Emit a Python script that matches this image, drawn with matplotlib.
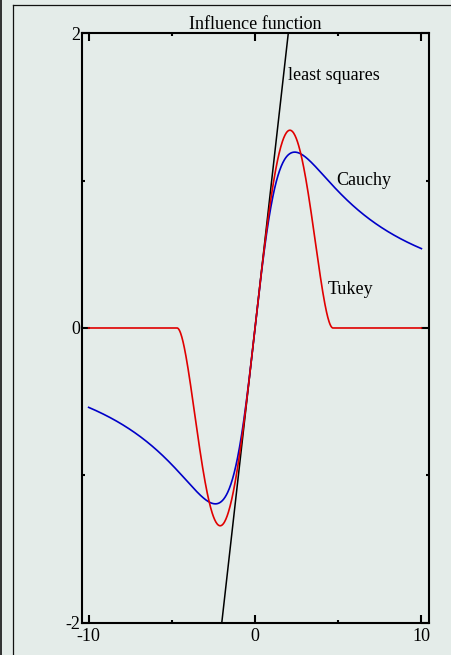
import numpy as np
import matplotlib.pyplot as plt
from matplotlib.lines import Line2D

plt.rcParams['font.family'] = ['Liberation Serif', 'DejaVu Serif']
plt.rcParams['axes.unicode_minus'] = False

# tuning constants of the two robust estimators
c_cauchy = 2.3849
c_tukey = 4.6851

x_range = (-10, 10)
x_ticks = [-10, 0, 10]
x_minor = [-5, 5]
y_ticks = [-2, 0, 2]
y_minor = [-1, 1]

curve_labels = {
    'least squares': (1.99, 1.68),
    'Cauchy': (4.88, 0.97),
    'Tukey': (4.34, 0.23),
}

bg = '#e4ece9'

x = np.linspace(x_range[0], x_range[1], 801)
psi_ls = x
psi_cauchy = x / (1 + (x / c_cauchy) ** 2)
psi_tukey = np.where(np.abs(x) < c_tukey, x * (1 - (x / c_tukey) ** 2) ** 2, 0.0)

fig = plt.figure(figsize=(4.51, 6.55), dpi=100, facecolor=bg)
ax = fig.add_axes([0.1818, 0.0489, 0.951 - 0.1818, 0.9496 - 0.0489])
ax.set_facecolor(bg)

ax.plot(x, psi_ls, color='black', lw=1.1)
ax.plot(x, psi_cauchy, color='#0000c8', lw=1.2)
ax.plot(x, psi_tukey, color='#e00000', lw=1.2)

for name, (tx, ty) in curve_labels.items():
    ax.text(tx, ty, name, fontsize=13, ha='left', va='baseline')

ax.set_xlim(-10.4, 10.45)
ax.set_ylim(-2, 2)
ax.set_xticks(x_ticks)
ax.set_xticklabels([str(v) for v in x_ticks])
ax.set_xticks(x_minor, minor=True)
ax.set_yticks(y_ticks)
ax.set_yticklabels([str(v) for v in y_ticks])
ax.set_yticks(y_minor, minor=True)

ax.tick_params(which='both', direction='in', top=True, right=True, width=1.5, labelsize=13)
ax.tick_params(which='major', length=5.5)
ax.tick_params(which='minor', length=2.2)
ax.tick_params(axis='x', pad=3.5)
ax.tick_params(axis='y', pad=1)
for s in ax.spines.values():
    s.set_linewidth(1.5)

ax.set_title('Influence function', fontsize=13, pad=1.5)

# outer frame lines
fig.add_artist(Line2D([0.0012, 0.0012], [0, 1], transform=fig.transFigure, color='#111111', lw=1.2))
fig.add_artist(Line2D([12.5 / 451, 12.5 / 451], [0, 1 - 5 / 655], transform=fig.transFigure, color='#111111', lw=0.9))
fig.add_artist(Line2D([12.5 / 451, 1], [1 - 5 / 655, 1 - 5 / 655], transform=fig.transFigure, color='#111111', lw=0.9))

fig.savefig('out.png', dpi=100, facecolor=bg)
